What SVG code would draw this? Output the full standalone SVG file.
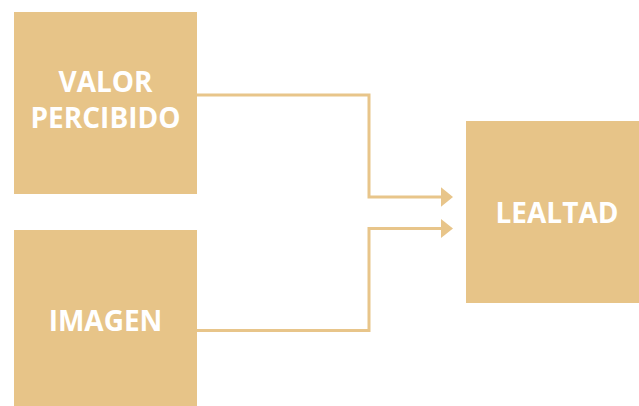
<svg xmlns="http://www.w3.org/2000/svg" width="639" height="406" viewBox="0 0 639 406">
<defs>
<style>
.box{fill:#E7C488;}
.lbl{fill:#FFFFFF;font-family:"Open Sans","Liberation Sans",sans-serif;font-weight:bold;font-size:28px;text-anchor:middle;}
.conn{fill:none;stroke:#E8C58A;stroke-width:3;}
.head{fill:#E8C58A;}
</style>
</defs>
<rect width="639" height="406" fill="#FFFFFF"/>
<g id="node-valor">
<rect class="box" x="14" y="12" width="183" height="182"/>
<text class="lbl" x="105.5" y="91.5">VALOR</text>
<text class="lbl" x="105.5" y="128">PERCIBIDO</text>
</g>
<g id="node-imagen">
<rect class="box" x="14" y="230" width="183" height="176"/>
<text class="lbl" x="105.5" y="331">IMAGEN</text>
</g>
<g id="node-lealtad">
<rect class="box" x="466" y="121" width="173" height="182"/>
<text class="lbl" x="557" y="223">LEALTAD</text>
</g>
<g id="connectors">
<polyline class="conn" points="197,95 369,95 369,197 442,197"/>
<polygon class="head" points="441,187.3 453,197 441,206.7"/>
<polyline class="conn" points="197,330.5 369,330.5 369,228.5 442,228.5"/>
<polygon class="head" points="441,219 453,228.5 441,238"/>
</g>
</svg>
